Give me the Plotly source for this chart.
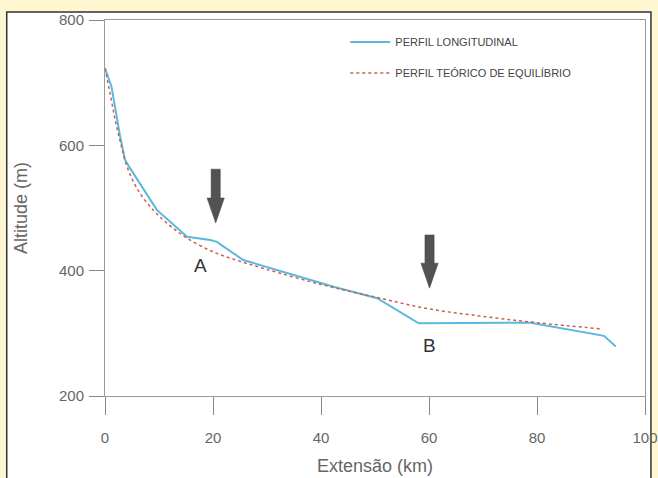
import plotly.graph_objects as go

# perfil longitudinal (km, m)
perfil_km = [0, 1.2, 2.8, 3.7, 4.6, 8.7, 9.6, 15.2, 19.5, 20.7, 25.6, 42.5, 50.4, 58.1, 78.8, 92.4, 94.6]
perfil_alt = [723, 694, 614, 577, 564, 508, 497, 454, 449, 446, 417, 374, 356, 316, 317, 296, 279]

# perfil teorico de equilibrio
teorico_km = [0, 1, 2, 3, 4, 6, 9, 12, 15, 20, 25, 30, 40, 50, 60, 70, 80, 92]
teorico_alt = [723, 680, 636, 600, 568, 530, 496, 472, 453, 430, 415, 402, 378, 358, 339, 327, 317, 307]

marcos = ["A", "B"]
marcos_km = [17.6, 60.0]
marcos_alt = [409, 281]
setas_km = [20.5, 60.1]
setas_topo = [562, 457]
setas_ponta = [476, 372]

fig = go.Figure()
fig.add_trace(go.Scatter(x=perfil_km, y=perfil_alt, mode="lines", name="PERFIL LONGITUDINAL",
                         line=dict(color="#5BB8DE", width=2), legendgroup="a"))
fig.add_trace(go.Scatter(x=teorico_km, y=teorico_alt, mode="lines", name="PERFIL TEÓRICO DE EQUILÍBRIO",
                         line=dict(color="#C9614F", width=1.5, dash="dot", shape="spline"), legendgroup="b"))

# thick down arrows (shaft + narrow head)
sw, hw, hl = 0.85, 1.6, 40
for k, t, p in zip(setas_km, setas_topo, setas_ponta):
    path = (f"M {k-sw},{t} L {k+sw},{t} L {k+sw},{p+hl} L {k+hw},{p+hl} L {k},{p} "
            f"L {k-hw},{p+hl} L {k-sw},{p+hl} Z")
    fig.add_shape(type="path", path=path, xref="x", yref="y", fillcolor="#525252",
                  line=dict(color="#444444", width=0.5))

for m, k, a in zip(marcos, marcos_km, marcos_alt):
    fig.add_annotation(x=k, y=a, text=m, showarrow=False, font=dict(size=19, color="#333333"))

# white framed panel on the yellow page
fig.add_shape(type="rect", xref="paper", yref="paper", x0=-0.182, x1=1.011, y0=-0.3, y1=1.021,
              fillcolor="white", line=dict(color="#333333", width=1.5), layer="below")

fig.update_layout(
    width=658, height=478,
    margin=dict(l=105, r=13, t=20, b=82, autoexpand=False),
    paper_bgcolor="#FFF6D2",
    plot_bgcolor="white",
    font=dict(family="Liberation Sans, Arial", size=15, color="#666666"),
    showlegend=True,
    legend=dict(x=0.445, y=0.98, xanchor="left", yanchor="top", bgcolor="rgba(0,0,0,0)",
                font=dict(size=11, color="#444444"), traceorder="grouped", tracegroupgap=12,
                itemwidth=40),
)
fig.update_xaxes(range=[0, 100], tickvals=[0, 20, 40, 60, 80, 100], ticks="outside", ticklen=18,
                 tickcolor="#888888", showline=True, linecolor="#999999", mirror=True,
                 showgrid=False, zeroline=False, automargin=False, ticklabelstandoff=10,
                 title_text="Extensão (km)", title_standoff=14)
fig.update_yaxes(range=[200, 800], tickvals=[200, 400, 600, 800], ticks="outside", ticklen=15,
                 tickcolor="#888888", showline=True, linecolor="#999999", mirror=True,
                 showgrid=False, zeroline=False, automargin=False, ticklabelstandoff=2,
                 title_text="Altitude (m)", title_standoff=26)

fig.write_html("out.html", config={"displayModeBar": False},
               post_script="document.body.style.margin='0';document.body.style.background='#FFF6D2';")
